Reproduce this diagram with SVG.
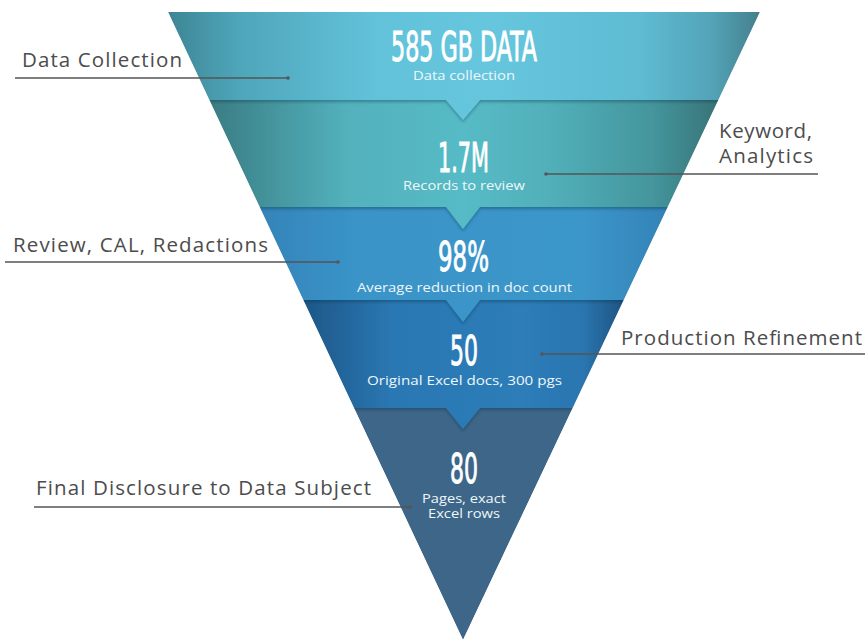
<svg xmlns="http://www.w3.org/2000/svg" width="865" height="642" viewBox="0 0 865 642">
  <style>
    .num { font-family: "Liberation Sans Narrow", "DejaVu Sans Condensed", "Liberation Sans", sans-serif; font-size: 40px; fill: #ffffff; stroke: #ffffff; stroke-width: 0.9; text-anchor: middle; }
    .sub { font-family: "Open Sans", "Noto Sans", "Liberation Sans", sans-serif; font-size: 13.5px; fill: #eef7fa; text-anchor: middle; }
    .lbl { font-family: "Open Sans", "Noto Sans", "Liberation Sans", sans-serif; font-size: 20.5px; fill: #4c4c4c; }
    .lead { stroke: #555555; stroke-width: 1.3; fill: none; }
    .dot { fill: #555555; }
  </style>
  <defs>
    <linearGradient id="g1" gradientUnits="userSpaceOnUse" x1="168" y1="0" x2="760" y2="0">
      <stop offset="0" stop-color="#3d8594"/>
      <stop offset="0.12" stop-color="#4ea6ba"/>
      <stop offset="0.35" stop-color="#62c2da"/>
      <stop offset="0.55" stop-color="#66c6de"/>
      <stop offset="0.8" stop-color="#5ebbd2"/>
      <stop offset="0.92" stop-color="#53a3b7"/>
      <stop offset="1" stop-color="#447f8c"/>
    </linearGradient>
    <linearGradient id="g2" gradientUnits="userSpaceOnUse" x1="168" y1="0" x2="760" y2="0">
      <stop offset="0.07" stop-color="#3a7c83"/>
      <stop offset="0.3" stop-color="#52b1bc"/>
      <stop offset="0.5" stop-color="#56bbc6"/>
      <stop offset="0.65" stop-color="#51afb9"/>
      <stop offset="0.82" stop-color="#44959c"/>
      <stop offset="0.93" stop-color="#377378"/>
    </linearGradient>
    <linearGradient id="g3" gradientUnits="userSpaceOnUse" x1="168" y1="0" x2="760" y2="0">
      <stop offset="0.15" stop-color="#3483b8"/>
      <stop offset="0.32" stop-color="#3a94c8"/>
      <stop offset="0.7" stop-color="#3b96ca"/>
      <stop offset="0.85" stop-color="#3482b6"/>
    </linearGradient>
    <linearGradient id="g4" gradientUnits="userSpaceOnUse" x1="168" y1="0" x2="760" y2="0">
      <stop offset="0.23" stop-color="#1d5788"/>
      <stop offset="0.38" stop-color="#2b78b3"/>
      <stop offset="0.6" stop-color="#2d7cb8"/>
      <stop offset="0.7" stop-color="#2b76b0"/>
      <stop offset="0.78" stop-color="#1c4f7c"/>
    </linearGradient>
    <filter id="shade" x="-5%" y="-10%" width="110%" height="130%">
      <feDropShadow dx="0" dy="2" stdDeviation="1.6" flood-color="#0b2a3a" flood-opacity="0.35"/>
    </filter>
    <clipPath id="funnelClip">
      <polygon points="168,12 760,12 463,640"/>
    </clipPath>
  </defs>

  <!-- Funnel bands, painted bottom-up so each notch sits over the band below -->
  <g clip-path="url(#funnelClip)">
    <g id="stage-final">
      <polygon points="354,408 572.7,408 463,640" fill="#3d6688"/>
      <text class="num" x="464" y="483" textLength="28" lengthAdjust="spacingAndGlyphs">80</text>
      <text class="sub" x="464" y="503" textLength="84" lengthAdjust="spacingAndGlyphs">Pages, exact</text>
      <text class="sub" x="464" y="518" textLength="72" lengthAdjust="spacingAndGlyphs">Excel rows</text>
    </g>
    <g id="stage-production">
      <polygon points="303.3,300 623.8,300 572.7,408 480,408 463,429 446,408 354,408" fill="url(#g4)" filter="url(#shade)"/>
      <text class="num" x="464" y="365" textLength="28" lengthAdjust="spacingAndGlyphs">50</text>
      <text class="sub" x="464.5" y="385" textLength="195" lengthAdjust="spacingAndGlyphs">Original Excel docs, 300 pgs</text>
    </g>
    <g id="stage-review">
      <polygon points="259.6,207 667.8,207 623.8,300 480,300 463,322 446,300 303.3,300" fill="url(#g3)" filter="url(#shade)"/>
      <text class="num" x="463.5" y="271" textLength="51" lengthAdjust="spacingAndGlyphs">98%</text>
      <text class="sub" x="464.5" y="292" textLength="215" lengthAdjust="spacingAndGlyphs">Average reduction in doc count</text>
    </g>
    <g id="stage-records">
      <polygon points="209.3,100 718.4,100 667.8,207 480,207 463,229 446,207 259.6,207" fill="url(#g2)" filter="url(#shade)"/>
      <text class="num" x="463.5" y="172" textLength="51" lengthAdjust="spacingAndGlyphs">1.7M</text>
      <text class="sub" x="464" y="190" textLength="122" lengthAdjust="spacingAndGlyphs">Records to review</text>
    </g>
    <g id="stage-collection">
      <polygon points="168,12 760,12 718.4,100 480,100 463,120 446,100 209.3,100" fill="url(#g1)" filter="url(#shade)"/>
      <text class="num" x="464" y="61" textLength="146" lengthAdjust="spacingAndGlyphs">585 GB DATA</text>
      <text class="sub" x="464" y="80" textLength="102" lengthAdjust="spacingAndGlyphs">Data collection</text>
    </g>
  </g>

  <!-- Leader lines -->
  <g id="connectors">
    <path class="lead" d="M15,78 H288"/>
    <circle class="dot" cx="288" cy="78" r="1.8"/>
    <path class="lead" d="M546,174 H818"/>
    <circle class="dot" cx="546" cy="174" r="1.8"/>
    <path class="lead" d="M5,262 H338"/>
    <circle class="dot" cx="338" cy="262" r="1.8"/>
    <path class="lead" d="M542,354 H865"/>
    <circle class="dot" cx="542" cy="354" r="1.8"/>
    <path class="lead" d="M34,507 H410"/>
    <circle class="dot" cx="410" cy="507" r="1.8"/>
  </g>

  <!-- Step labels -->
  <g id="label-data-collection">
    <text class="lbl" x="22" y="67" textLength="160" lengthAdjust="spacing">Data Collection</text>
  </g>
  <g id="label-keyword">
    <text class="lbl" x="719" y="138" textLength="93" lengthAdjust="spacing">Keyword,</text>
    <text class="lbl" x="719" y="163" textLength="94" lengthAdjust="spacing">Analytics</text>
  </g>
  <g id="label-review">
    <text class="lbl" x="13" y="252" textLength="255" lengthAdjust="spacing">Review, CAL, Redactions</text>
  </g>
  <g id="label-production">
    <text class="lbl" x="621" y="345" textLength="241" lengthAdjust="spacing">Production Refinement</text>
  </g>
  <g id="label-final">
    <text class="lbl" x="36" y="495" textLength="335" lengthAdjust="spacing">Final Disclosure to Data Subject</text>
  </g>
</svg>
